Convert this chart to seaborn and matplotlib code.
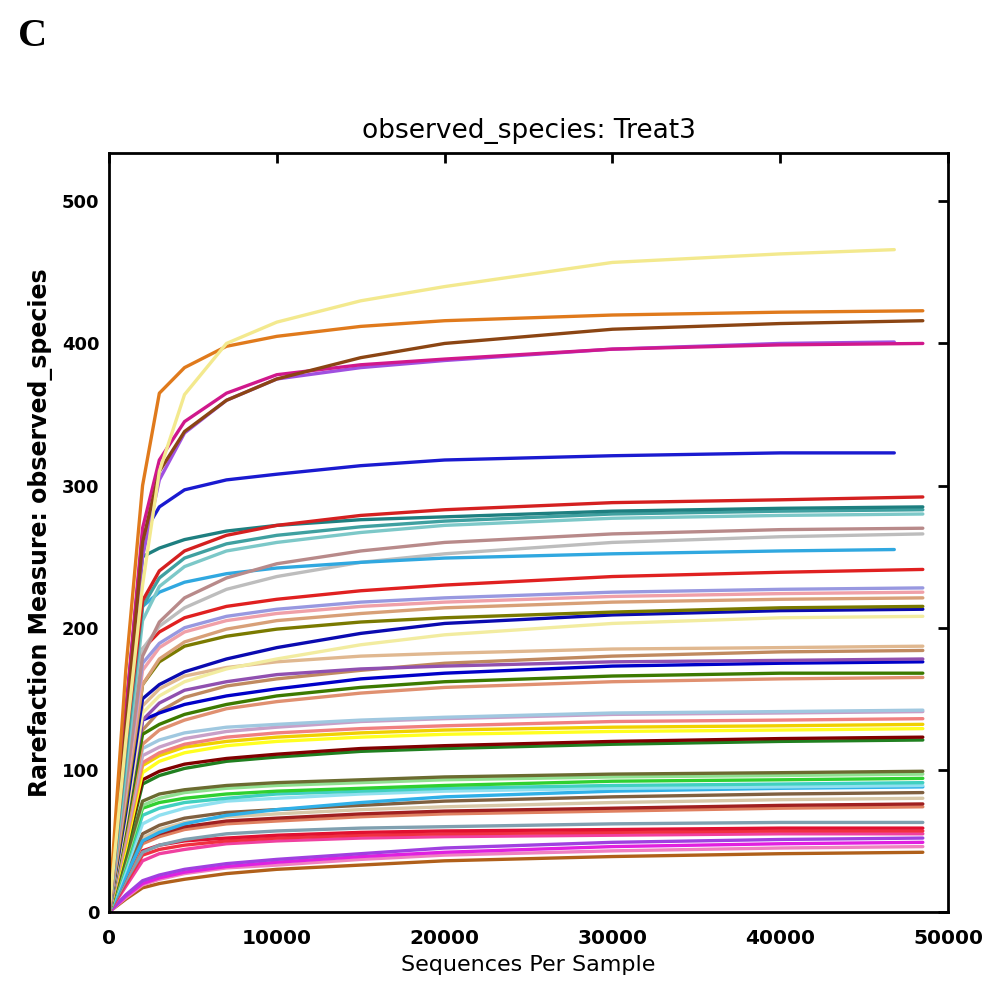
import matplotlib
matplotlib.use("Agg")
import matplotlib.pyplot as plt
import seaborn as sns
import pandas as pd

# ---------------- data ----------------
depths = [0, 1000, 2000, 3000, 4500, 7000, 10000, 15000, 20000, 30000, 40000]
END_SHORT = 46800
END_LONG = 48500

sample_names = [f"S{i:02d}" for i in range(1, 52)]

end_depth = [
    END_SHORT, END_LONG, END_LONG, END_LONG, END_SHORT, END_SHORT, END_LONG, END_LONG, END_LONG, END_LONG,
    END_LONG, END_SHORT, END_LONG, END_LONG, END_LONG, END_LONG, END_LONG, END_LONG, END_LONG, END_LONG,
    END_LONG, END_LONG, END_LONG, END_LONG, END_LONG, END_LONG, END_LONG, END_LONG, END_LONG, END_LONG,
    END_LONG, END_LONG, END_LONG, END_LONG, END_LONG, END_LONG, END_LONG, END_LONG, END_LONG, END_LONG,
    END_LONG, END_LONG, END_LONG, END_LONG, END_LONG, END_LONG, END_LONG, END_LONG, END_LONG, END_LONG,
    END_LONG,
]

s01 = [0, 120, 230, 310, 364, 400, 415, 430, 440, 457, 463, 466]
s02 = [0, 170, 300, 365, 383, 398, 405, 412, 416, 420, 422, 423]
s03 = [0, 130, 260, 310, 338, 360, 375, 390, 400, 410, 414, 416]
s04 = [0, 140, 270, 318, 345, 365, 378, 385, 389, 396, 399, 400]
s05 = [0, 130, 250, 304, 337, 360, 375, 383, 388, 396, 400, 401]
s06 = [0, 140, 265, 285, 297, 304, 308, 314, 318, 321, 323, 323]
s07 = [0, 120, 219, 240, 254, 265, 272, 279, 283, 288, 290, 292]
s08 = [0, 140, 250, 256, 262, 268, 272, 276, 278, 282, 284, 285]
s09 = [0, 110, 215, 235, 249, 259, 265, 271, 275, 280, 282, 283]
s10 = [0, 100, 205, 229, 243, 254, 260, 267, 272, 277, 279, 280]
s11 = [0, 90, 180, 204, 221, 235, 245, 254, 260, 266, 269, 270]
s12 = [0, 110, 215, 225, 232, 238, 242, 246, 249, 252, 254, 255]
s13 = [0, 90, 185, 201, 214, 227, 236, 246, 252, 260, 264, 266]
s14 = [0, 95, 185, 197, 207, 215, 220, 226, 230, 236, 239, 241]
s15 = [0, 90, 175, 189, 200, 208, 213, 218, 221, 225, 227, 228]
s16 = [0, 85, 170, 186, 197, 205, 210, 215, 218, 222, 224, 225]
s17 = [0, 80, 160, 178, 190, 199, 205, 210, 214, 218, 220, 221]
s18 = [0, 75, 160, 176, 187, 194, 199, 204, 207, 211, 214, 215]
s19 = [0, 70, 150, 160, 169, 178, 186, 196, 203, 209, 212, 213]
s20 = [0, 65, 140, 152, 162, 171, 178, 188, 195, 203, 207, 208]
s21 = [0, 70, 145, 157, 166, 172, 176, 180, 182, 185, 186, 187]
s22 = [0, 65, 135, 147, 156, 162, 167, 171, 173, 176, 177, 178]
s23 = [0, 65, 135, 140, 146, 152, 157, 164, 168, 173, 175, 176]
s24 = [0, 60, 125, 132, 139, 146, 152, 158, 162, 166, 168, 168]
s25 = [0, 55, 118, 128, 135, 143, 148, 154, 158, 162, 164, 165]
s26 = [0, 55, 115, 121, 126, 130, 132, 135, 137, 140, 141, 142]
s27 = [0, 52, 110, 116, 122, 127, 130, 134, 136, 139, 140, 141]
s28 = [0, 50, 105, 112, 118, 123, 126, 129, 131, 134, 135, 136]
s29 = [0, 48, 103, 110, 116, 120, 123, 126, 128, 130, 131, 132]
s30 = [0, 45, 98, 106, 112, 117, 120, 123, 125, 127, 128, 129]
s31 = [0, 45, 93, 99, 104, 108, 111, 115, 117, 120, 122, 123]
s32 = [0, 42, 90, 96, 101, 106, 109, 113, 115, 118, 120, 121]
s33 = [0, 38, 78, 83, 86, 89, 91, 93, 95, 97, 98, 99]
s34 = [0, 36, 75, 80, 84, 87, 89, 91, 93, 95, 96, 97]
s35 = [0, 35, 73, 77, 80, 83, 85, 87, 89, 92, 93, 94]
s36 = [0, 33, 68, 73, 77, 80, 83, 85, 87, 89, 90, 91]
s37 = [0, 30, 62, 68, 73, 78, 80, 83, 85, 87, 88, 89]
s38 = [0, 25, 50, 56, 62, 68, 72, 77, 81, 85, 87, 88]
s39 = [0, 28, 55, 61, 66, 70, 72, 75, 78, 81, 83, 84]
s40 = [0, 26, 52, 58, 63, 67, 69, 72, 74, 77, 79, 80]
s41 = [0, 25, 50, 55, 60, 64, 66, 69, 71, 73, 75, 76]
s42 = [0, 24, 48, 53, 58, 62, 64, 67, 69, 71, 73, 74]
s43 = [0, 22, 42, 47, 51, 55, 57, 59, 60, 62, 63, 63]
s44 = [0, 22, 43, 47, 50, 52, 54, 56, 57, 58, 59, 59]
s45 = [0, 20, 40, 44, 47, 50, 52, 54, 55, 56, 57, 57]
s46 = [0, 18, 36, 41, 44, 48, 50, 52, 53, 54, 55, 55]
s47 = [0, 12, 22, 26, 30, 34, 37, 41, 45, 49, 51, 52]
s48 = [0, 11, 20, 24, 28, 32, 35, 39, 42, 46, 48, 49]
s49 = [0, 10, 19, 23, 27, 31, 33, 37, 40, 43, 45, 46]
s50 = [0, 9, 17, 20, 23, 27, 30, 33, 36, 39, 41, 42]
s51 = [0, 60, 128, 141, 151, 159, 164, 170, 175, 180, 183, 184]

colors = [
    "#f3e98e", "#e07a1c", "#8b4513", "#d0188c", "#a050e0", "#1a1ad0", "#d42020", "#1e7f80", "#3fa0a0", "#7cc8c8",
    "#b88a8a", "#30a8e0", "#bdbdbd", "#e02020", "#9898e0", "#f0a0a8", "#d8a078", "#7a7a00", "#0a0ab0", "#f2eca0",
    "#e0b890", "#9050b0", "#0000c8", "#3c7a00", "#e09070", "#a0c8e0", "#c8a0c8", "#f08080", "#f0d000", "#ffff20",
    "#800000", "#208020", "#6b6b30", "#90e090", "#30d030", "#40d0c0", "#90e0f0", "#30b0e8", "#806040", "#d8c8a8",
    "#a02020", "#e08060", "#80a0b0", "#e01030", "#f03040", "#f040a0", "#a040e0", "#e020e0", "#f080c0", "#b0601a",
    "#c08a60",
]

series = [s01, s02, s03, s04, s05, s06, s07, s08, s09, s10, s11, s12, s13, s14, s15, s16, s17, s18, s19, s20,
          s21, s22, s23, s24, s25, s26, s27, s28, s29, s30, s31, s32, s33, s34, s35, s36, s37, s38, s39, s40,
          s41, s42, s43, s44, s45, s46, s47, s48, s49, s50, s51]

xticks = [0, 10000, 20000, 30000, 40000, 50000]
yticks = [0, 100, 200, 300, 400, 500]

# ---------------- build long table ----------------
rows = []
for name, vals, end in zip(sample_names, series, end_depth):
    for d, v in zip(depths + [end], vals):
        rows.append({"sample": name, "depth": d, "value": v})
df = pd.DataFrame(rows)
palette = dict(zip(sample_names, colors))

# ---------------- plot ----------------
sns.set_style("white")
plt.rcParams["font.family"] = ["DejaVu Sans"]
plt.rcParams["text.color"] = "black"
plt.rcParams["axes.labelcolor"] = "black"

fig = plt.figure(figsize=(9.91, 9.98), dpi=100)
ax = fig.add_axes([0.110, 0.0862, 0.8466, 0.7605])

order = sample_names[::-1]
sns.lineplot(data=df, x="depth", y="value", hue="sample", hue_order=order,
             palette=palette, legend=False, linewidth=2.4, ax=ax,
             estimator=None, sort=True)

ax.set_xlim(0, 50000)
ax.set_ylim(0, 534)
ax.set_xticks(xticks)
ax.set_yticks(yticks)
ax.set_xticklabels([str(t) for t in xticks], fontsize=14.5, fontweight="bold")
ax.set_yticklabels([str(t) for t in yticks], fontsize=13, fontweight="bold")

for sp in ax.spines.values():
    sp.set_visible(True)
    sp.set_color("black")
    sp.set_linewidth(2.0)

ax.tick_params(axis="both", which="major", direction="in", length=7, width=2,
               top=True, right=True, colors="black")
ax.tick_params(axis="x", pad=12)
ax.tick_params(axis="y", pad=7)

ax.set_title("observed_species: Treat3", fontsize=19, pad=11, color="black")
ax.set_xlabel("Sequences Per Sample", fontsize=16, labelpad=5, color="black")
ax.set_ylabel("Rarefaction Measure: observed_species", fontsize=17,
              fontweight="bold", labelpad=6, color="black")

fig.text(0.018, 0.982, "C", fontsize=29, fontweight="bold", color="black",
         family=["Liberation Serif", "DejaVu Serif"], va="top", ha="left")

fig.savefig("out.png", dpi=100, facecolor="white")
